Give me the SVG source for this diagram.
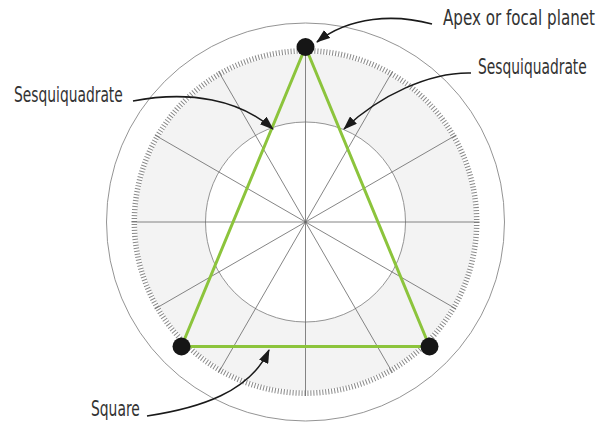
<svg xmlns="http://www.w3.org/2000/svg" width="603" height="425" viewBox="0 0 603 425">
  <style>
    .lbl { font-family: "Liberation Sans Narrow", "DejaVu Sans Condensed", "Liberation Sans", sans-serif; font-size: 21px; fill: #333; }
    .spoke { stroke: #666; stroke-width: 0.8; }
    .ring { fill: none; stroke: #888; stroke-width: 0.9; }
    .arrow { fill: none; stroke: #1a1a1a; stroke-width: 1.6; marker-end: url(#ah); }
    .tri { fill: none; stroke: #8cc43c; stroke-width: 3; stroke-linejoin: round; }
    .dot { fill: #161616; }
  </style>
  <defs>
    <marker id="ah" viewBox="0 0 14 10" refX="13" refY="5" markerWidth="14" markerHeight="10" markerUnits="userSpaceOnUse" orient="auto">
      <path d="M0,0 L14,5 L0,10 Z" fill="#1a1a1a"/>
    </marker>
  </defs>
  <rect width="603" height="425" fill="#fff"/>
  <g id="wheel">
    <circle cx="305.5" cy="222" r="199" class="ring"/>
    <circle cx="305.5" cy="222" r="169" fill="#f3f3f3"/>
    <circle cx="305.5" cy="222" r="171.2" fill="none" stroke="#8a8a8a" stroke-width="5.5" pathLength="360" stroke-dasharray="0.34 0.66"/>
    <circle cx="305.5" cy="222" r="100" fill="#fff" stroke="#888" stroke-width="0.9"/>
    <g class="spoke">
      <line x1="305.5" y1="48" x2="305.5" y2="396"/>
      <line x1="131.5" y1="222" x2="479.5" y2="222"/>
      <line x1="392.5" y1="71.3" x2="218.5" y2="372.7"/>
      <line x1="456.2" y1="135" x2="154.8" y2="309"/>
      <line x1="218.5" y1="71.3" x2="392.5" y2="372.7"/>
      <line x1="154.8" y1="135" x2="456.2" y2="309"/>
    </g>
  </g>
  <g id="triangle">
    <polygon class="tri" points="305.5,47 181.5,346.5 429.5,346.5"/>
  </g>
  <g id="apex"><circle class="dot" cx="305.5" cy="47" r="9"/></g>
  <g id="base-left"><circle class="dot" cx="181.5" cy="346.5" r="9"/></g>
  <g id="base-right"><circle class="dot" cx="429.5" cy="346.5" r="9"/></g>
  <g id="connectors">
    <path class="arrow" d="M432,24 C395,14 350,16 317,42"/>
    <path class="arrow" d="M471,73 C430,72 380,95 344,129"/>
    <path class="arrow" d="M133,101 C190,90 240,100 273,129"/>
    <path class="arrow" d="M147,416 C200,408 250,392 269,350"/>
  </g>
  <g id="labels">
    <text class="lbl" transform="translate(443,25) scale(0.8,1)" textLength="190" lengthAdjust="spacingAndGlyphs">Apex or focal planet</text>
    <text class="lbl" transform="translate(478,74) scale(0.8,1)" textLength="136" lengthAdjust="spacingAndGlyphs">Sesquiquadrate</text>
    <text class="lbl" transform="translate(14,102) scale(0.8,1)" textLength="136" lengthAdjust="spacingAndGlyphs">Sesquiquadrate</text>
    <text class="lbl" transform="translate(91,416) scale(0.8,1)" textLength="61" lengthAdjust="spacingAndGlyphs">Square</text>
  </g>
</svg>
